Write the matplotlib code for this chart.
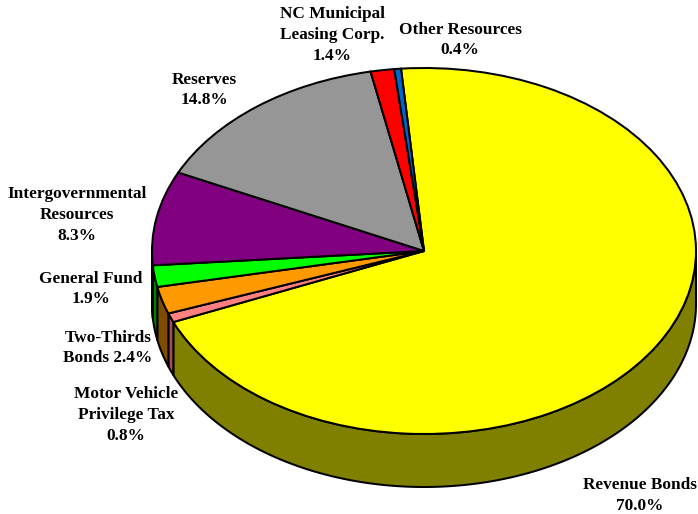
import numpy as np
import matplotlib
matplotlib.use("Agg")
import matplotlib.pyplot as plt
from matplotlib.patches import Polygon

categories = ["Revenue Bonds", "Motor Vehicle Privilege Tax", "Two-Thirds Bonds", "General Fund",
              "Intergovernmental Resources", "Reserves", "NC Municipal Leasing Corp.", "Other Resources"]
values = [70.0, 0.8, 2.4, 1.9, 8.3, 14.8, 1.4, 0.4]
labels = ["Revenue Bonds\n70.0%", "Motor Vehicle\nPrivilege Tax\n0.8%", "Two-Thirds\nBonds 2.4%",
          "General Fund\n1.9%", "Intergovernmental\nResources\n8.3%", "Reserves\n14.8%",
          "NC Municipal\nLeasing Corp.\n1.4%", "Other Resources\n0.4%"]
top_colors = ["#FFFF00", "#FF8080", "#FF9900", "#00FF00", "#800080", "#969696", "#FF0000", "#0066CC"]
side_colors = ["#808000", "#A05050", "#804C00", "#008000", "#400040", "#4B4B4B", "#800000", "#003366"]
label_px = [(640, 495.5), (126, 415), (108, 348), (91, 289), (77, 215), (204, 90), (332, 35), (460, 40)]

W, H = 698, 514
CX, CY, RX, RY, DEPTH = 424, 251, 272, 183, 53
START = 94.85
LW = 1.45

fig = plt.figure(figsize=(W / 100, H / 100), dpi=100, facecolor="white")
ax = fig.add_axes([0, 0, 1, 1])

# side wall (visible for the lower half of the ellipse only)
d = DEPTH / RY
edges = START - np.cumsum([0] + values) * 3.6
for i in range(len(values)):
    a, b = edges[i + 1], edges[i]
    segs = []
    for shift in (0, -360):
        lo, hi = max(a, 180 + shift), min(b, 360 + shift)
        if hi > lo:
            segs.append((lo, hi))
    for lo, hi in segs:
        t = np.radians(np.linspace(lo, hi, 200))
        x, y = np.cos(t), np.sin(t)
        pts = np.vstack([np.c_[x, y], np.c_[x[::-1], y[::-1] - d]])
        ax.add_patch(Polygon(pts, closed=True, facecolor=side_colors[i], edgecolor="black",
                             linewidth=LW, joinstyle="round", zorder=1))

# top surface
wedges, _ = ax.pie(values, colors=top_colors, startangle=START, counterclock=False, radius=1,
                   wedgeprops=dict(edgecolor="black", linewidth=LW, zorder=2))
for w in wedges:
    w.set_zorder(2)

ax.set_aspect("auto")
ax.set_xlim((0 - CX) / RX, (W - CX) / RX)
ax.set_ylim((CY - H) / RY, CY / RY)
ax.axis("off")

for text, (px, py) in zip(labels, label_px):
    fig.text(px / W, 1 - py / H, text, ha="center", va="center", family="Liberation Serif",
             fontweight="bold", fontsize=12.4, color="black", linespacing=1.38)

fig.savefig("out.png", dpi=100)
